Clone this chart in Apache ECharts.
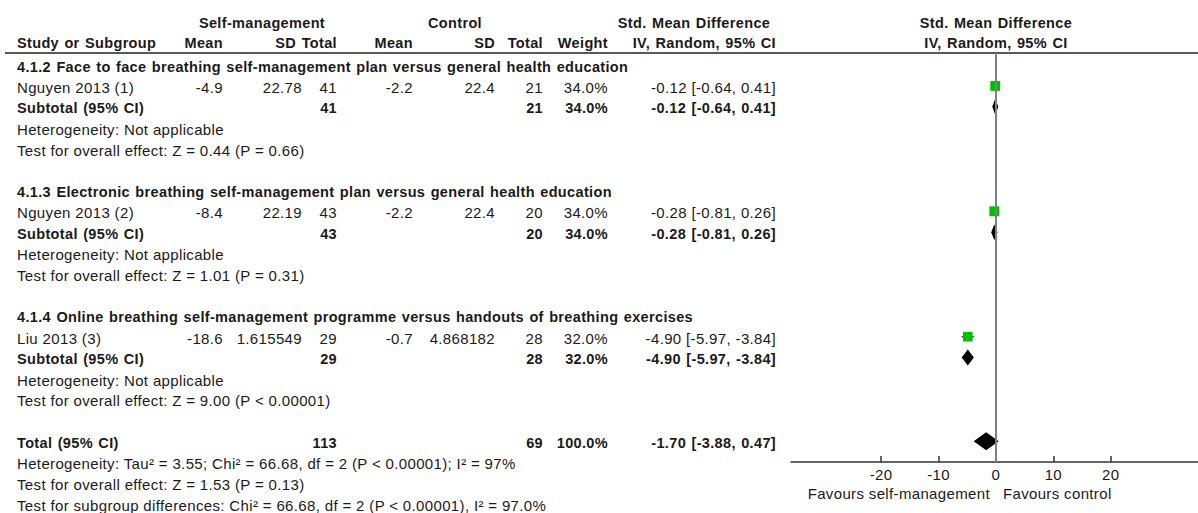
<!DOCTYPE html>
<html><head><meta charset="utf-8">
<script src="https://cdn.jsdelivr.net/npm/echarts@6/dist/echarts.min.js"></script>
<style>
html,body{margin:0;padding:0;background:#fff;}
#chart{width:1198px;height:513px;}
#chart text{letter-spacing:0.35px;}
#chart text[style*="bold"]{word-spacing:1px;}
</style></head><body><div id="chart"></div>
<script>
// ---------------- data ----------------
const groupTitles = [
  '4.1.2 Face to face breathing self-management plan versus general health education',
  '4.1.3 Electronic breathing self-management plan versus general health education',
  '4.1.4 Online breathing self-management programme versus handouts of breathing exercises'
];
const studyNames = ['Nguyen 2013 (1)', 'Nguyen 2013 (2)', 'Liu 2013 (3)'];
const smMean = ['-4.9', '-8.4', '-18.6'];
const smSD = ['22.78', '22.19', '1.615549'];
const smTotal = [41, 43, 29];
const ctrlMean = ['-2.2', '-2.2', '-0.7'];
const ctrlSD = ['22.4', '22.4', '4.868182'];
const ctrlTotal = [21, 20, 28];
const weights = [34.0, 34.0, 32.0];
const smdEst = [-0.12, -0.28, -4.90];
const smdLow = [-0.64, -0.81, -5.97];
const smdHigh = [0.41, 0.26, -3.84];
const subEst = [-0.12, -0.28, -4.90];
const subLow = [-0.64, -0.81, -5.97];
const subHigh = [0.41, 0.26, -3.84];
const hetTexts = ['Heterogeneity: Not applicable', 'Heterogeneity: Not applicable', 'Heterogeneity: Not applicable'];
const effectTexts = [
  'Test for overall effect: Z = 0.44 (P = 0.66)',
  'Test for overall effect: Z = 1.01 (P = 0.31)',
  'Test for overall effect: Z = 9.00 (P < 0.00001)'
];
const totalSm = 113, totalCtrl = 69, totalWeight = 100.0;
const totalEst = -1.70, totalLow = -3.88, totalHigh = 0.47;
const footerTexts = [
  'Heterogeneity: Tau² = 3.55; Chi² = 66.68, df = 2 (P < 0.00001); I² = 97%',
  'Test for overall effect: Z = 1.53 (P = 0.13)',
  'Test for subgroup differences: Chi² = 66.68, df = 2 (P < 0.00001), I² = 97.0%'
];
const tickValues = [-20, -10, 0, 10, 20];
const favoursLeft = 'Favours self-management';
const favoursRight = 'Favours control';

// ---------------- layout ----------------
const ROW0 = 65, PITCH = 20.9, GRID_TOP = 53, AXIS_Y = 462;
const yMin = (GRID_TOP - ROW0) / PITCH, yMax = (AXIS_Y - ROW0) / PITCH;
const ROWS_PER_GROUP = 6;
const totalRow = groupTitles.length * ROWS_PER_GROUP;

const fmtCI = (e, l, h) => e.toFixed(2) + ' [' + l.toFixed(2) + ', ' + h.toFixed(2) + ']';

const studyData = studyNames.map((n, i) => [smdEst[i], smdLow[i], smdHigh[i], i * ROWS_PER_GROUP + 1, weights[i]]);
const diamondData = groupTitles.map((g, i) => [subEst[i], subLow[i], subHigh[i], i * ROWS_PER_GROUP + 2, 0]);
diamondData.push([totalEst, totalLow, totalHigh, totalRow, 1]);

const chart = echarts.init(document.getElementById('chart'), null, {renderer: 'svg', width: 1198, height: 513});

const FONT = '"Liberation Sans", Arial, sans-serif';
const TXT = '#1a1a1a';

chart.setOption({
  animation: false,
  backgroundColor: '#fff',
  grid: {left: 791, right: 0, top: GRID_TOP, bottom: 513 - AXIS_Y, containLabel: false},
  xAxis: {
    type: 'value', min: -35.7, max: 35.2,
    splitLine: {show: false},
    axisLine: {show: true, onZero: false, lineStyle: {color: '#333', width: 1.5}},
    axisTick: {show: true, inside: true, length: 6, customValues: tickValues, lineStyle: {color: '#333', width: 1.5}},
    axisLabel: {show: true, customValues: tickValues, margin: 5, color: TXT, fontSize: 15, fontFamily: FONT}
  },
  yAxis: {type: 'value', inverse: true, min: yMin, max: yMax, show: false},
  series: [
    {
      type: 'custom', name: 'studies', data: studyData, z: 3,
      renderItem: function (params, api) {
        const row = api.value(3);
        const c = api.coord([api.value(0), row]);
        const l = api.coord([api.value(1), row]);
        const h = api.coord([api.value(2), row]);
        const s = Math.sqrt(api.value(4)) * 1.7;
        return {type: 'group', children: [
          {type: 'line', shape: {x1: l[0], y1: c[1], x2: h[0], y2: c[1]}, style: {stroke: '#000', lineWidth: 1}},
          {type: 'rect', shape: {x: c[0] - s / 2, y: c[1] - s / 2, width: s, height: s}, style: {fill: '#00c000'}}
        ]};
      },
      markLine: {
        silent: true, symbol: 'none', label: {show: false},
        lineStyle: {color: '#808080', width: 2, type: 'solid'},
        data: [{xAxis: 0}]
      }
    },
    {
      type: 'custom', name: 'pooled', data: diamondData, z: 4,
      renderItem: function (params, api) {
        const row = api.value(3);
        const c = api.coord([api.value(0), row]);
        const l = api.coord([api.value(1), row]);
        const h = api.coord([api.value(2), row]);
        const hh = api.value(4) ? 9 : 8;
        return {type: 'polygon', shape: {points: [[l[0], c[1]], [c[0], c[1] - hh], [h[0], c[1]], [c[0], c[1] + hh]]},
          style: {fill: '#000'}};
      }
    }
  ]
});

// ---------------- table text ----------------
const x0 = chart.convertToPixel({xAxisIndex: 0}, 0);
const rowY = r => chart.convertToPixel({yAxisIndex: 0}, r) + 1.5;

function txt(x, y, s, align, bold) {
  return {type: 'text', x: x, y: y, silent: true, z: 10,
    style: {text: String(s), fill: TXT, font: (bold ? 'bold 14.5px ' : '15px ') + FONT,
      align: align, verticalAlign: 'middle', textAlign: align, textVerticalAlign: 'middle'}};
}
const COL = {name: 17, smMean: 223, smSDHead: 296, smSD: 302, smTotal: 337, cMean: 413, cSD: 495, cTotal: 543, weight: 608, ci: 776};
const els = [];
// headers
const H1 = 23, H2 = 43;
els.push(txt(262, H1, 'Self-management', 'center', true));
els.push(txt(455, H1, 'Control', 'center', true));
els.push(txt(694, H1, 'Std. Mean Difference', 'center', true));
els.push(txt(x0, H1, 'Std. Mean Difference', 'center', true));
els.push(txt(COL.name, H2, 'Study or Subgroup', 'left', true));
els.push(txt(COL.smMean, H2, 'Mean', 'right', true));
els.push(txt(COL.smSDHead, H2, 'SD', 'right', true));
els.push(txt(COL.smTotal, H2, 'Total', 'right', true));
els.push(txt(COL.cMean, H2, 'Mean', 'right', true));
els.push(txt(COL.cSD, H2, 'SD', 'right', true));
els.push(txt(COL.cTotal, H2, 'Total', 'right', true));
els.push(txt(COL.weight, H2, 'Weight', 'right', true));
els.push(txt(COL.ci, H2, 'IV, Random, 95% CI', 'right', true));
els.push(txt(x0, H2, 'IV, Random, 95% CI', 'center', true));
els.push({type: 'line', silent: true, shape: {x1: 5, y1: GRID_TOP, x2: 1198, y2: GRID_TOP}, style: {stroke: '#222', lineWidth: 1.5}});

groupTitles.forEach((g, i) => {
  const b = i * ROWS_PER_GROUP;
  els.push(txt(COL.name, rowY(b), g, 'left', true));
  const ys = rowY(b + 1);
  els.push(txt(COL.name, ys, studyNames[i], 'left', false));
  els.push(txt(COL.smMean, ys, smMean[i], 'right', false));
  els.push(txt(COL.smSD, ys, smSD[i], 'right', false));
  els.push(txt(COL.smTotal, ys, smTotal[i], 'right', false));
  els.push(txt(COL.cMean, ys, ctrlMean[i], 'right', false));
  els.push(txt(COL.cSD, ys, ctrlSD[i], 'right', false));
  els.push(txt(COL.cTotal, ys, ctrlTotal[i], 'right', false));
  els.push(txt(COL.weight, ys, weights[i].toFixed(1) + '%', 'right', false));
  els.push(txt(COL.ci, ys, fmtCI(smdEst[i], smdLow[i], smdHigh[i]), 'right', false));
  const yt = rowY(b + 2);
  els.push(txt(COL.name, yt, 'Subtotal (95% CI)', 'left', true));
  els.push(txt(COL.smTotal, yt, smTotal[i], 'right', true));
  els.push(txt(COL.cTotal, yt, ctrlTotal[i], 'right', true));
  els.push(txt(COL.weight, yt, weights[i].toFixed(1) + '%', 'right', true));
  els.push(txt(COL.ci, yt, fmtCI(subEst[i], subLow[i], subHigh[i]), 'right', true));
  els.push(txt(COL.name, rowY(b + 3), hetTexts[i], 'left', false));
  els.push(txt(COL.name, rowY(b + 4), effectTexts[i], 'left', false));
});
const yT = rowY(totalRow);
els.push(txt(COL.name, yT, 'Total (95% CI)', 'left', true));
els.push(txt(COL.smTotal, yT, totalSm, 'right', true));
els.push(txt(COL.cTotal, yT, totalCtrl, 'right', true));
els.push(txt(COL.weight, yT, totalWeight.toFixed(1) + '%', 'right', true));
els.push(txt(COL.ci, yT, fmtCI(totalEst, totalLow, totalHigh), 'right', true));
footerTexts.forEach((t, k) => els.push(txt(COL.name, rowY(totalRow + 1 + k), t, 'left', false)));
els.push(txt(x0 - 6, 493, favoursLeft, 'right', false));
els.push(txt(x0 + 7, 493, favoursRight, 'left', false));

chart.setOption({graphic: {elements: els}});
</script></body></html>
